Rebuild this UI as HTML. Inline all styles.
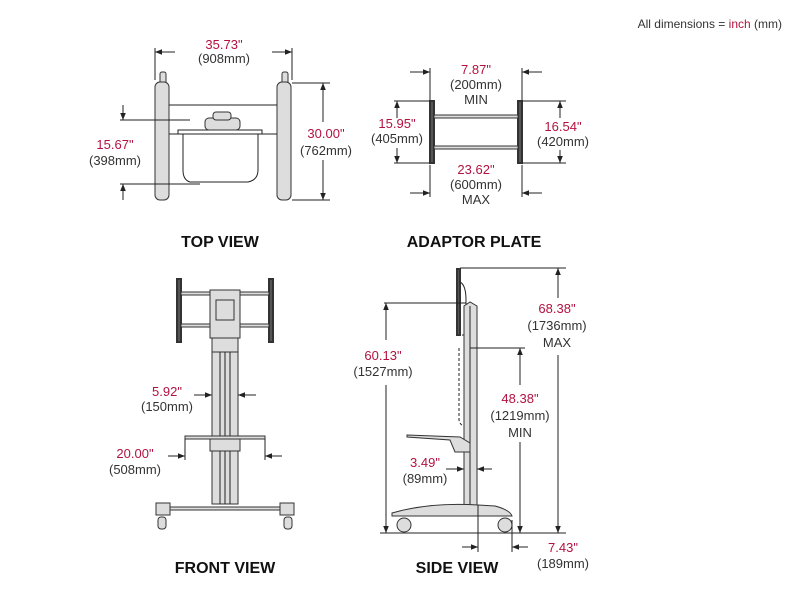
<!DOCTYPE html>
<html><head><meta charset="utf-8"><style>
body{margin:0;background:#fff}
svg{display:block}
text{font-family:"Liberation Sans",sans-serif;font-size:13px;fill:#333;text-anchor:middle}
.r{fill:#b3123f}
.t{font-size:16px;font-weight:bold;fill:#111}
.l{stroke:#222;stroke-width:1;fill:none}
.d{stroke:#333;stroke-width:2;fill:#555}
.g{stroke:#333;stroke-width:1;fill:#ddd}
</style></head><body>
<svg width="800" height="600" viewBox="0 0 800 600">
<defs><marker id="a" viewBox="0 0 10 10" refX="10" refY="5" markerWidth="7" markerHeight="7" orient="auto-start-reverse"><path d="M0,1L10,5L0,9z" fill="#222"/></marker></defs>
<text x="782" y="28" style="text-anchor:end;font-size:12px">All dimensions = <tspan class="r">inch</tspan> (mm)</text>

<!-- TOP VIEW -->
<line class="l" x1="155" y1="48" x2="155" y2="80"/><line class="l" x1="292" y1="48" x2="292" y2="80"/>
<line class="l" x1="175" y1="52" x2="155" y2="52" marker-end="url(#a)"/><line class="l" x1="272" y1="52" x2="292" y2="52" marker-end="url(#a)"/>
<text class="r" x="224" y="49">35.73"</text><text x="224" y="63">(908mm)</text>
<rect class="g" x="160" y="72" width="6" height="12" rx="2"/><rect class="g" x="282" y="72" width="6" height="12" rx="2"/>
<rect class="g" x="155" y="82" width="14" height="118" rx="5"/><rect class="g" x="277" y="82" width="14" height="118" rx="5"/>
<line class="l" x1="169" y1="105" x2="277" y2="105"/><line class="l" x1="169" y1="134" x2="277" y2="134"/>
<path class="l" d="M178,130 L262,130 L262,134 L258,134 L258,170 Q258,180 248,182 L190,182 Q183,180 183,170 L183,134 L178,134Z" fill="#eee"/>
<rect class="g" x="205" y="118" width="35" height="12" rx="4"/><rect class="g" x="213" y="112" width="18" height="8" rx="3"/>
<line class="l" x1="123" y1="105" x2="123" y2="120" marker-end="url(#a)"/><line class="l" x1="120" y1="120" x2="190" y2="120"/>
<line class="l" x1="123" y1="200" x2="123" y2="184" marker-end="url(#a)"/><line class="l" x1="120" y1="184" x2="200" y2="184"/>
<text class="r" x="115" y="149">15.67"</text><text x="115" y="165">(398mm)</text>
<line class="l" x1="292" y1="83" x2="330" y2="83"/><line class="l" x1="292" y1="200" x2="330" y2="200"/>
<line class="l" x1="323" y1="122" x2="323" y2="83" marker-end="url(#a)"/><line class="l" x1="323" y1="160" x2="323" y2="200" marker-end="url(#a)"/>
<text class="r" x="326" y="138">30.00"</text><text x="326" y="155">(762mm)</text>
<text class="t" x="220" y="247">TOP VIEW</text>

<!-- ADAPTOR -->
<rect class="d" x="430" y="101" width="4" height="62"/><rect class="d" x="518" y="101" width="4" height="62"/>
<rect class="g" x="434" y="115" width="84" height="3"/><rect class="g" x="434" y="146" width="84" height="3"/>
<line class="l" x1="430" y1="68" x2="430" y2="100"/><line class="l" x1="522" y1="68" x2="522" y2="100"/>
<line class="l" x1="410" y1="72" x2="430" y2="72" marker-end="url(#a)"/><line class="l" x1="542" y1="72" x2="522" y2="72" marker-end="url(#a)"/>
<line class="l" x1="430" y1="165" x2="430" y2="197"/><line class="l" x1="522" y1="165" x2="522" y2="197"/>
<line class="l" x1="410" y1="193" x2="430" y2="193" marker-end="url(#a)"/><line class="l" x1="542" y1="193" x2="522" y2="193" marker-end="url(#a)"/>
<text class="r" x="476" y="74">7.87"</text><text x="476" y="89">(200mm)</text><text x="476" y="104">MIN</text>
<text class="r" x="476" y="174">23.62"</text><text x="476" y="189">(600mm)</text><text x="476" y="204">MAX</text>
<line class="l" x1="394" y1="101" x2="430" y2="101"/><line class="l" x1="394" y1="163" x2="430" y2="163"/>
<line class="l" x1="397" y1="118" x2="397" y2="101" marker-end="url(#a)"/><line class="l" x1="397" y1="148" x2="397" y2="163" marker-end="url(#a)"/>
<text class="r" x="397" y="128">15.95"</text><text x="397" y="143">(405mm)</text>
<line class="l" x1="522" y1="101" x2="566" y2="101"/><line class="l" x1="522" y1="163" x2="566" y2="163"/>
<line class="l" x1="560" y1="118" x2="560" y2="101" marker-end="url(#a)"/><line class="l" x1="560" y1="150" x2="560" y2="163" marker-end="url(#a)"/>
<text class="r" x="563" y="131">16.54"</text><text x="563" y="146">(420mm)</text>
<text class="t" x="474" y="247">ADAPTOR PLATE</text>

<!-- FRONT VIEW -->
<rect class="d" x="177" y="279" width="4" height="63"/><rect class="d" x="269" y="279" width="4" height="63"/>
<rect class="g" x="181" y="292" width="88" height="3"/><rect class="g" x="181" y="324" width="88" height="3"/>
<rect class="g" x="210" y="290" width="30" height="48"/><rect class="g" x="216" y="300" width="18" height="20"/>
<rect class="g" x="212" y="338" width="26" height="14"/>
<rect class="g" x="212" y="352" width="26" height="152"/>
<line class="l" x1="220" y1="352" x2="220" y2="504"/><line class="l" x1="225" y1="352" x2="225" y2="504"/><line class="l" x1="230" y1="352" x2="230" y2="504"/>
<rect class="g" x="185" y="436" width="80" height="3"/><rect class="g" x="210" y="439" width="30" height="12"/>
<line class="l" x1="185" y1="439" x2="185" y2="460"/><line class="l" x1="265" y1="439" x2="265" y2="460"/>
<rect class="g" x="160" y="507" width="130" height="3"/>
<rect class="g" x="156" y="503" width="14" height="12"/><rect class="g" x="280" y="503" width="14" height="12"/>
<rect class="g" x="158" y="517" width="8" height="12" rx="3"/><rect class="g" x="284" y="517" width="8" height="12" rx="3"/>
<line class="l" x1="194" y1="395" x2="212" y2="395" marker-end="url(#a)"/><line class="l" x1="256" y1="395" x2="238" y2="395" marker-end="url(#a)"/>
<text class="r" x="167" y="396">5.92"</text><text x="167" y="411">(150mm)</text>
<line class="l" x1="168" y1="456" x2="185" y2="456" marker-end="url(#a)"/><line class="l" x1="282" y1="456" x2="265" y2="456" marker-end="url(#a)"/>
<text class="r" x="135" y="458">20.00"</text><text x="135" y="474">(508mm)</text>
<text class="t" x="225" y="573">FRONT VIEW</text>

<!-- SIDE VIEW -->
<rect class="d" x="457" y="269" width="3" height="66"/>
<path class="l" d="M460,282 Q466,285 466,300 L466,335 L462,335"/>
<path class="g" d="M464,340 L464,306 L470,302 L477,306 L477,505 L464,505Z"/>
<line class="l" x1="470" y1="306" x2="470" y2="505"/>
<path class="l" d="M459,348 L459,420 Q460,425 464,426" stroke-dasharray="3,2"/>
<path class="g" d="M407,435 L460,437 L470,443 L470,452 L455,452 L450,440 L407,437Z"/>
<path class="g" d="M392,513 Q430,502 478,505 L495,506 Q510,510 512,516 L392,516Z"/>
<circle class="g" cx="404" cy="525" r="7"/><circle class="g" cx="505" cy="525" r="7"/>
<line class="l" x1="384" y1="303" x2="466" y2="303"/><line class="l" x1="380" y1="533" x2="566" y2="533"/>
<line class="l" x1="386" y1="340" x2="386" y2="303" marker-end="url(#a)"/><line class="l" x1="386" y1="385" x2="386" y2="533" marker-end="url(#a)"/>
<text class="r" x="383" y="360">60.13"</text><text x="383" y="376">(1527mm)</text>
<line class="l" x1="460" y1="268" x2="566" y2="268"/>
<line class="l" x1="558" y1="298" x2="558" y2="268" marker-end="url(#a)"/><line class="l" x1="558" y1="355" x2="558" y2="533" marker-end="url(#a)"/>
<text class="r" x="557" y="313">68.38"</text><text x="557" y="330">(1736mm)</text><text x="557" y="347">MAX</text>
<line class="l" x1="470" y1="348" x2="525" y2="348"/>
<line class="l" x1="520" y1="385" x2="520" y2="348" marker-end="url(#a)"/><line class="l" x1="520" y1="442" x2="520" y2="533" marker-end="url(#a)"/>
<text class="r" x="520" y="403">48.38"</text><text x="520" y="420">(1219mm)</text><text x="520" y="437">MIN</text>
<line class="l" x1="446" y1="469" x2="464" y2="469" marker-end="url(#a)"/><line class="l" x1="492" y1="469" x2="477" y2="469" marker-end="url(#a)"/>
<text class="r" x="425" y="467">3.49"</text><text x="425" y="483">(89mm)</text>
<line class="l" x1="478" y1="505" x2="478" y2="552"/><line class="l" x1="512" y1="520" x2="512" y2="552"/>
<line class="l" x1="462" y1="547" x2="478" y2="547" marker-end="url(#a)"/><line class="l" x1="528" y1="547" x2="512" y2="547" marker-end="url(#a)"/>
<text class="r" x="563" y="552">7.43"</text><text x="563" y="568">(189mm)</text>
<text class="t" x="457" y="573">SIDE VIEW</text>
</svg>
</body></html>
